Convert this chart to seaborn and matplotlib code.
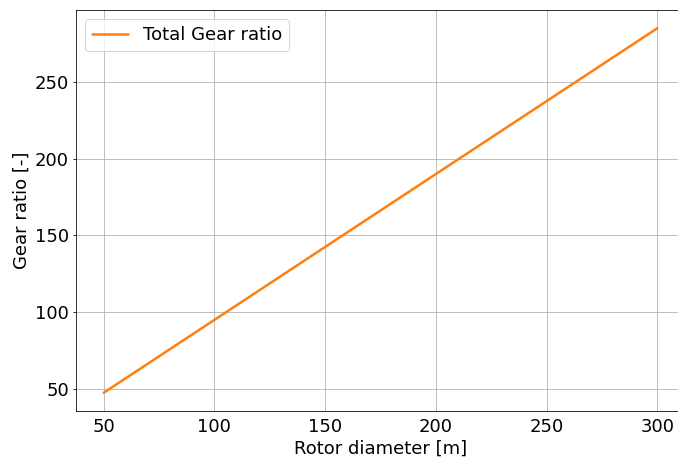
import matplotlib
matplotlib.use("Agg")
import matplotlib.pyplot as plt
import seaborn as sns
import pandas as pd

rotor_diameter = [50, 100, 150, 200, 250, 300]
gear_ratio = [47.5, 95.0, 142.5, 190.0, 237.5, 285.0]
series_label = "Total Gear ratio"

sns.set_style("ticks")
plt.rcParams['font.family'] = ['DejaVu Sans']
plt.rcParams['text.color'] = 'black'
plt.rcParams['axes.labelcolor'] = 'black'
plt.rcParams['xtick.color'] = 'black'
plt.rcParams['ytick.color'] = 'black'

df = pd.DataFrame({"Rotor diameter [m]": rotor_diameter, "Gear ratio [-]": gear_ratio})

DPI = 72
fig = plt.figure(figsize=(678 / DPI, 457 / DPI), dpi=DPI)
ax = fig.add_axes([76 / 678, 1 - 411 / 457, 609 / 678, 401 / 457])
sns.lineplot(data=df, x="Rotor diameter [m]", y="Gear ratio [-]", ax=ax,
             color="#ff7f0e", linewidth=2.5, label=series_label)
ax.grid(True, color="#b0b0b0", linewidth=0.8)
ax.set_axisbelow(True)
for s in ax.spines.values():
    s.set_color("black")
    s.set_linewidth(0.8)
ax.tick_params(axis="both", labelsize=18, colors="black")
ax.tick_params(axis="y", length=3.5, width=0.8, pad=3.5)
ax.tick_params(axis="x", length=0, pad=7)
ax.set_xlabel("Rotor diameter [m]", fontsize=18, labelpad=4)
ax.set_ylabel("Gear ratio [-]", fontsize=18, labelpad=4)
ax.set_yticks([50, 100, 150, 200, 250])
ax.legend(loc="upper left", fontsize=18, frameon=True)
fig.savefig("out.png", dpi=DPI)
